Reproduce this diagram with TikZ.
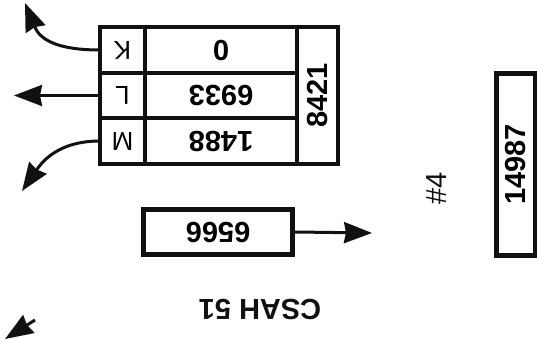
\documentclass[tikz,border=0pt]{standalone}
\usepackage{fontspec}
\setmainfont{Liberation Sans}
\usetikzlibrary{arrows.meta,positioning}
\definecolor{mapink}{HTML}{111111}
\tikzset{
  % turning-movement arrows
  map arrow/.style={
    draw=mapink, line width=3pt,
    -{Stealth[length=28pt,width=21pt,inset=2pt]},
  },
  % one cell of the count table
  map cell/.style={
    draw=mapink, line width=3.5pt, inner sep=0pt, outer sep=0pt,
    font=\fontsize{29}{31}\selectfont\bfseries,
  },
  % the letter cells are set lighter
  map letter/.style={
    map cell, minimum width=45pt,
    font=\fontsize{26}{28}\selectfont,
  },
  % heavy outline round the table
  map frame/.style={
    draw=mapink, line width=4.5pt,
  },
  % single counts standing alone
  map box/.style={
    draw=mapink, line width=5pt, inner sep=0pt,
    font=\fontsize{29}{31}\selectfont\bfseries,
  },
  map label/.style={
    text=mapink, inner sep=0pt,
    font=\fontsize{29}{31}\selectfont\bfseries,
  },
}

\begin{document}
\begin{tikzpicture}[x=1pt,y=-1pt]
  \useasboundingbox (0,0) rectangle (537,339);

  % ---- the turning table ---------------------------------------------------
  \node[map letter, minimum height=46pt] (kcell) at (122.5,50) {\rotatebox{180}{K}};
  \node[map letter, minimum height=45pt, below=0pt of kcell] (lcell) {\rotatebox{180}{L}};
  \node[map letter, minimum height=46pt, below=0pt of lcell] (mcell) {\rotatebox{180}{M}};

  \node[map cell, minimum width=152pt, minimum height=46pt, right=0pt of kcell] (kval) {\rotatebox{180}{0}};
  \node[map cell, minimum width=152pt, minimum height=45pt, right=0pt of lcell] (lval) {\rotatebox{180}{6933}};
  \node[map cell, minimum width=152pt, minimum height=46pt, right=0pt of mcell] (mval) {\rotatebox{180}{1488}};

  \node[map cell, minimum width=41pt, minimum height=137pt, anchor=north west]
    (sumcell) at (kval.north east) {\rotatebox{90}{8421}};

  \draw[map frame] (kcell.north west) rectangle (sumcell.south east);

  % ---- where the three movements go ----------------------------------------
  \coordinate (kout) at (25,3);
  \coordinate (lout) at (14,95.5);
  \coordinate (mout) at (22,191);

  \draw[map arrow] (kcell.west) .. controls (58,50) and (40,40) .. (kout);
  \draw[map arrow] (lcell.west) -- (lout);
  \draw[map arrow] (mcell.west) .. controls (58,141) and (42,162) .. (mout);

  \coordinate (stubfrom) at (35,320);
  \coordinate (stubto) at (5,339);
  \draw[map arrow] (stubfrom) -- (stubto);

  % ---- the other approaches ------------------------------------------------
  \node[map box, minimum width=149pt, minimum height=45pt] (southcount) at (218,232)
    {\rotatebox{180}{6566}};
  \coordinate (eastout) at (372,233);
  \draw[map arrow] (southcount.east) -- (eastout);

  \node[map box, minimum width=39pt, minimum height=181pt] (eastcount) at (515.5,164.5)
    {\rotatebox{90}{14987}};

  \node[map label, rotate=180] (roadname) at (260,309) {CSAH 51};
  \node[map label, font=\fontsize{29}{31}\selectfont, rotate=90] (approach) at (437,188) {\#4};

\end{tikzpicture}
\end{document}
